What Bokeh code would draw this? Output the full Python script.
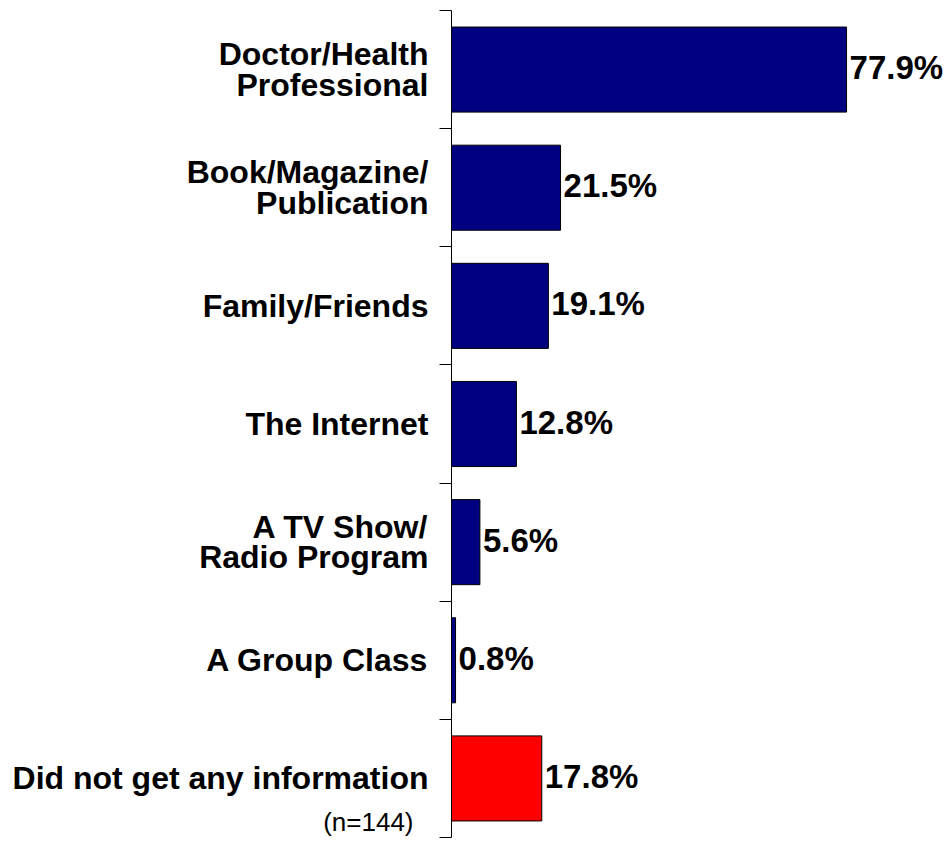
from bokeh.plotting import figure
from bokeh.models import Range1d, FixedTicker, LinearAxis, ColumnDataSource
from bokeh.core.properties import value
from bokeh.embed import file_html
from bokeh.resources import INLINE

categories = [
    "Doctor/Health\nProfessional",
    "Book/Magazine/\nPublication",
    "Family/Friends",
    "The Internet",
    "A TV Show/\nRadio Program",
    "A Group Class",
    "Did not get any information",
]
values = [77.9, 21.5, 19.1, 12.8, 5.6, 0.8, 17.8]
colors = ["#000080", "#000080", "#000080", "#000080", "#000080", "#000080", "#FF0000"]
note = "(n=144)"

n = len(categories)
pos = [i + 0.5 for i in range(n)]
labels = [f"{v:.1f}%" for v in values]

src = ColumnDataSource(dict(y=pos, v=values, c=colors, t=labels))

p = figure(width=949, height=840, output_backend="svg", toolbar_location=None,
           x_range=Range1d(0, 98.2), y_range=Range1d(n, 0),
           x_axis_location=None, y_axis_location=None,
           min_border_left=451, min_border_right=0, min_border_top=10, min_border_bottom=3)
p.outline_line_color = None
p.xgrid.visible = False
p.ygrid.visible = False
p.background_fill_color = "white"
p.border_fill_color = "white"

p.hbar(y="y", right="v", left=0, height=0.72, source=src, fill_color="c",
       line_color="black", line_width=1)

p.text(x="v", y="y", text="t", source=src, x_offset=3, y_offset=-2, text_baseline="middle",
       text_align="left", text_font=value("Liberation Sans"), text_font_style="bold",
       text_font_size="33px", text_color="black")

# inner axis: axis line, category boundary ticks and the sample-size note
note_pos = n - 0.075
ax_in = LinearAxis(ticker=FixedTicker(ticks=[note_pos], minor_ticks=list(range(n + 1))))
ax_in.major_label_overrides = {note_pos: note}
ax_in.major_tick_out = 0
ax_in.major_tick_in = 0
ax_in.minor_tick_out = 12
ax_in.minor_tick_in = 0
ax_in.minor_tick_line_color = "black"
ax_in.axis_line_color = "black"
ax_in.major_label_standoff = 26
ax_in.major_label_text_font = "Liberation Sans"
ax_in.major_label_text_font_style = "normal"
ax_in.major_label_text_font_size = "26px"
ax_in.major_label_text_color = "black"
p.add_layout(ax_in, "left")

# outer axis: category labels
ax_out = LinearAxis(ticker=FixedTicker(ticks=pos, minor_ticks=[]))
ax_out.major_label_overrides = {p_: c for p_, c in zip(pos, categories)}
ax_out.major_tick_out = 0
ax_out.major_tick_in = 0
ax_out.minor_tick_out = 0
ax_out.minor_tick_in = 0
ax_out.axis_line_color = None
ax_out.major_tick_line_color = None
ax_out.minor_tick_line_color = None
ax_out.major_label_standoff = -108
ax_out.major_label_text_font = "Liberation Sans"
ax_out.major_label_text_font_style = "bold"
ax_out.major_label_text_font_size = "32px"
ax_out.major_label_text_color = "black"
ax_out.major_label_text_line_height = 0.85
p.add_layout(ax_out, "left")

open("out.html", "w").write(file_html(p, INLINE))
